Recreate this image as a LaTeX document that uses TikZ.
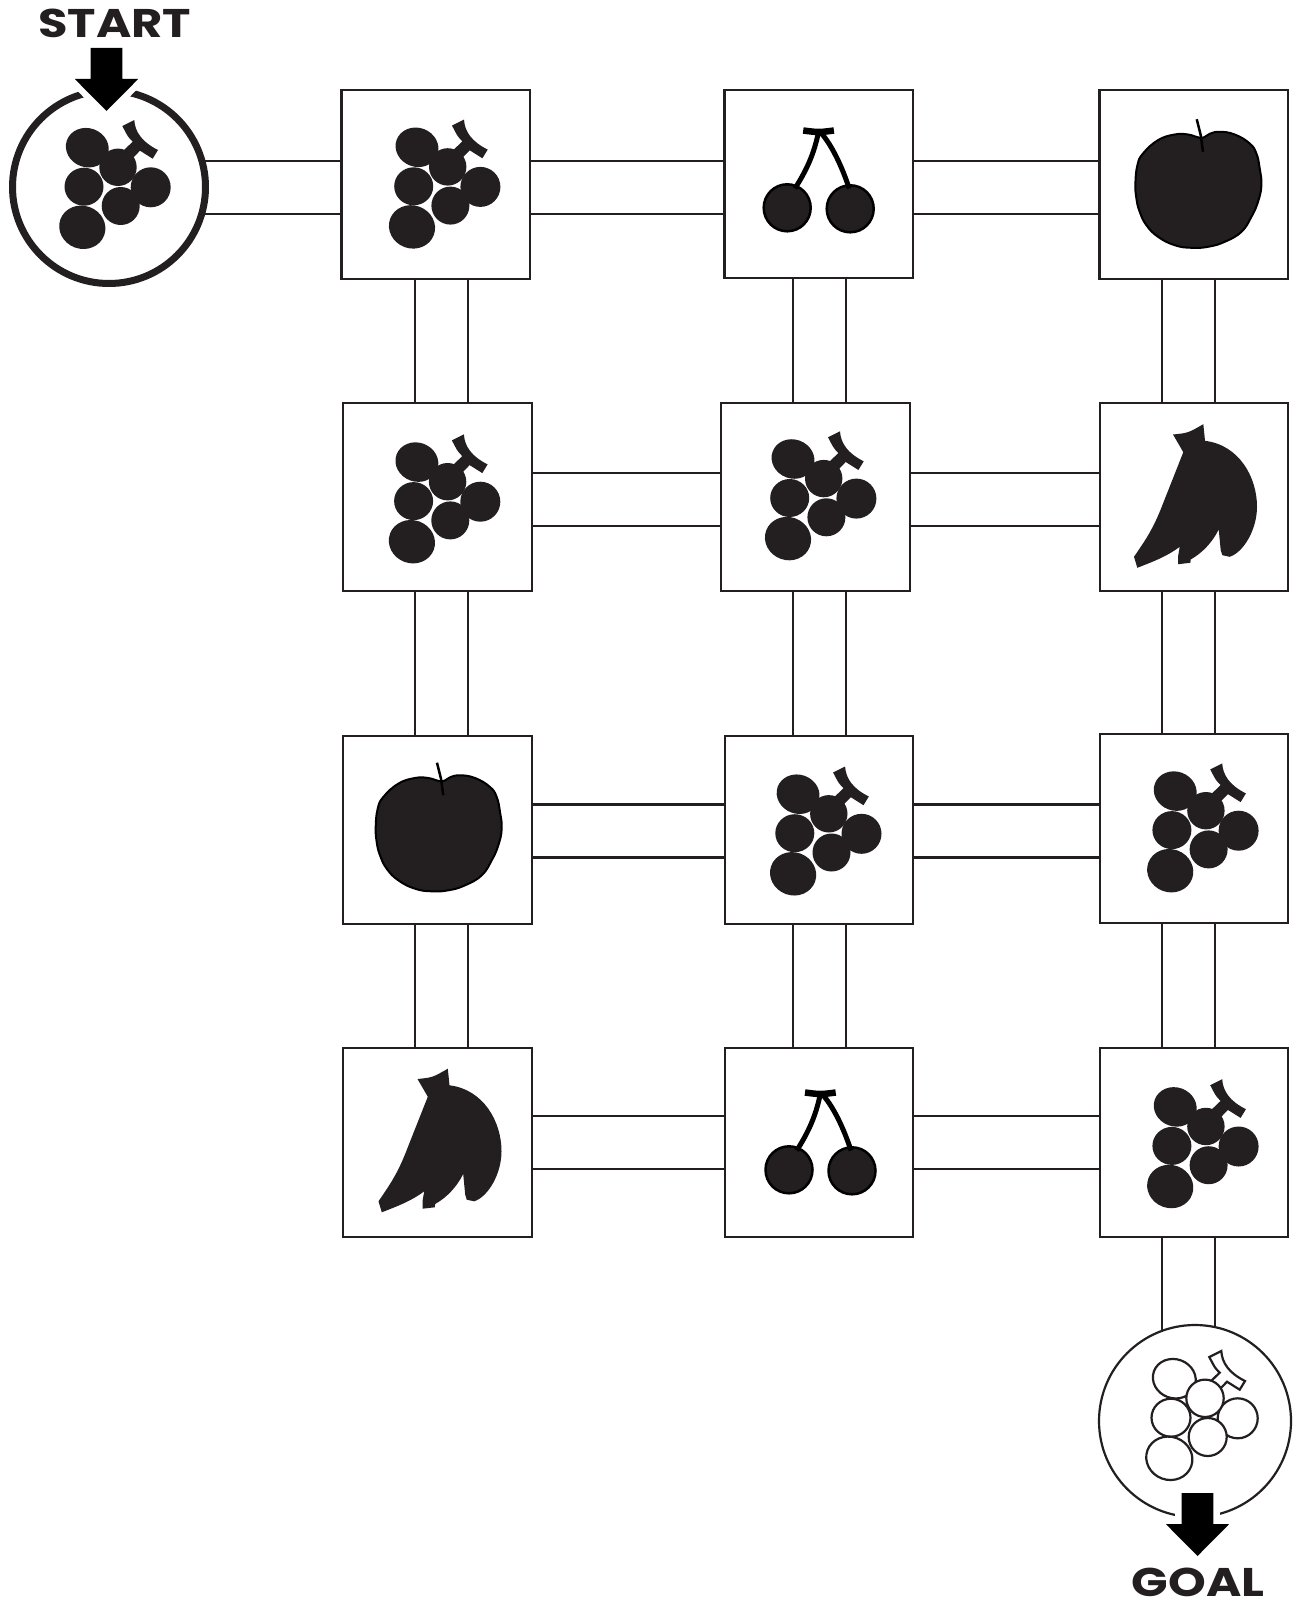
\documentclass[tikz,border=0pt]{standalone}
\usepackage{fontspec}
\usepackage{tikz}
\usetikzlibrary{backgrounds}
\newfontfamily\signfont{Poppins}[FakeStretch=1.2]
\definecolor{ink}{HTML}{231F20}
\tikzset{
    box/.style={draw=ink,fill=white,line width=2.2,minimum size=188.5,inner sep=0},
    startcircle/.style={circle,draw=ink,fill=white,line width=7,minimum size=193,inner sep=0},
    goalcircle/.style={circle,draw=ink,fill=white,line width=2.2,minimum size=192,inner sep=0},
    link/.style={draw=ink,line width=2.2,double=white,double distance=50.8},
    sign/.style={font=\signfont\bfseries\fontsize{40}{40}\selectfont,text=ink,inner sep=0},
    grapes/.pic={
        \path[pic actions] (13.3,-61) -- (25.3,-67) .. controls (26,-55) and (33,-45) .. (49,-37)
            -- (43.7,-28.3) -- (31,-36.3) -- (22,-27) -- (14,-36) -- (23.7,-45.3)
            .. controls (19,-50) .. cycle;
        \path[pic actions] (-21.7,-39.3) ellipse [x radius=21.7,y radius=19.5,rotate=-20];
        \path[pic actions] (-25,-0.3) ellipse [x radius=19.5,y radius=19];
        \path[pic actions] (41.7,0.3) ellipse [x radius=20,y radius=20];
        \path[pic actions] (11.7,19) ellipse [x radius=19,y radius=19];
        \path[pic actions] (-26.7,40.3) ellipse [x radius=23.3,y radius=21.5,rotate=-20];
        \path[pic actions] (9,-19.7) ellipse [x radius=18.7,y radius=18.7];
    },
    cherries/.pic={
        \fill[ink,draw=black,line width=2.5] (-31.5,23.8) circle (23.5);
        \fill[ink,draw=black,line width=2.5] (31.5,24.8) circle (23.5);
        \draw[black,line width=5] (-23.8,4.5) .. controls (-8.8,-18.8) and (-3.8,-35.5) .. (-0.5,-50.5);
        \draw[black,line width=5] (30.5,4.5) .. controls (22.8,-18.8) and (12.8,-39) .. (2.8,-50.5);
        \draw[black,line width=6.5] (-15.5,-53.5) .. controls (0,-51.5) .. (15.2,-53.5);
    },
    apple/.pic={
        \draw[black,line width=2,fill=ink] plot[smooth cycle,tension=.75] coordinates {(7.7,-46.7) (16,-50.7) (26,-52.7) (41,-50)
            (56,-41) (62.7,-31) (66,-16) (67.7,0.7) (64.3,17.3) (57.7,32.3) (47.7,47.3) (31,57.3) (14.3,62.3)
            (-2.3,63.3) (-19,60.7) (-35.7,52.3) (-47.3,40.7) (-54,27.3) (-57.3,14) (-58.3,-1) (-56.3,-19.3)
            (-50.7,-31) (-35.7,-44.3) (-19,-50) (-5.7,-50)};
        \draw[black,line width=2.5] (3,-65.3) -- (7,-49.3) -- (9.3,-32.7);
    },
    banana/.pic={
        \fill[ink] (-21,-62.5) .. controls (-6,-64) .. (9.3,-72.8) -- (11,-56.2)
            .. controls (45,-52) and (63,-20) .. (63,9.8)
            .. controls (63,32) and (50,55) .. (35.7,59.8)
            -- (28.3,58.2) -- (26.7,53.2) -- (24.7,32.5)
            .. controls (18,46) and (8,56) .. (-3.3,62.5)
            -- (-3.7,65.8) -- (-16,67.2) -- (-16,59.8) -- (-14.3,49.8)
            .. controls (-28,60) and (-42,65) .. (-56.7,70.8)
            -- (-60,59.8)
            .. controls (-50,45) and (-41,33) .. (-31,6.5)
            -- (-10.7,-44.8) -- cycle;
    },
    droparrow/.pic={
        \fill[black,preaction={draw=white,line width=13}] (-15.8,0) -- (15.8,0) -- (15.8,31) -- (31.7,31)
            -- (0,63) -- (-31.7,31) -- (-15.8,31) -- cycle;
    }
}
\begin{document}
\begin{tikzpicture}[x=1pt,y=-1pt]
    \useasboundingbox (0,0) rectangle (1301,1602);

    \node[startcircle] (start) at (109,187) {};
    \node[goalcircle] (goal) at (1195,1421) {};

    \node[box] (b11) at (435.7,184.5) {};
    \node[box] (b12) at (818.7,184) {};
    \node[box] (b13) at (1193.7,184.5) {};
    \node[box] (b21) at (437.5,497) {};
    \node[box] (b22) at (815.5,497) {};
    \node[box] (b23) at (1194,497) {};
    \node[box] (b31) at (437.5,830) {};
    \node[box] (b32) at (819,830) {};
    \node[box] (b33) at (1194,828.5) {};
    \node[box] (b41) at (437.5,1142.5) {};
    \node[box] (b42) at (819,1142.5) {};
    \node[box] (b43) at (1194,1142.5) {};

    \coordinate (rowa) at (0,187.5);
    \coordinate (rowb) at (0,499.7);
    \coordinate (rowc) at (0,831);
    \coordinate (rowd) at (0,1142.5);
    \coordinate (cola) at (441.5,0);
    \coordinate (colb) at (819.5,0);
    \coordinate (colc) at (1188.5,0);

    \begin{scope}[on background layer]
        \fill[white] (0,0) rectangle (1301,1602);
        \draw[link] (start |- rowa) -- (b11 |- rowa);
        \draw[link] (b11 |- rowa) -- (b12 |- rowa);
        \draw[link] (b12 |- rowa) -- (b13 |- rowa);
        \draw[link] (b21 |- rowb) -- (b22 |- rowb);
        \draw[link] (b22 |- rowb) -- (b23 |- rowb);
        \draw[link] (b31 |- rowc) -- (b32 |- rowc);
        \draw[link] (b32 |- rowc) -- (b33 |- rowc);
        \draw[link] (b41 |- rowd) -- (b42 |- rowd);
        \draw[link] (b42 |- rowd) -- (b43 |- rowd);

        \draw[link] (cola |- b11) -- (cola |- b21);
        \draw[link] (cola |- b21) -- (cola |- b31);
        \draw[link] (cola |- b31) -- (cola |- b41);
        \draw[link] (colb |- b12) -- (colb |- b22);
        \draw[link] (colb |- b22) -- (colb |- b32);
        \draw[link] (colb |- b32) -- (colb |- b42);
        \draw[link] (colc |- b13) -- (colc |- b23);
        \draw[link] (colc |- b23) -- (colc |- b33);
        \draw[link] (colc |- b33) -- (colc |- b43);
        \draw[link] (colc |- b43) -- (colc |- goal);
    \end{scope}

    \pic at (106.5,48) {droparrow};
    \pic at (1197.5,1493) {droparrow};

    \node[sign] (startlabel) at (114.7,23.5) {START};
    \node[sign] (goallabel) at (1198,1582) {GOAL};

    \pic[fill=ink] at (start) {grapes};
    \pic[fill=ink] at (438.7,186.6) {grapes};
    \pic[fill=ink] at (438.6,501.4) {grapes};
    \pic[fill=ink] at (814.7,498.3) {grapes};
    \pic[fill=ink] at (819.8,833.5) {grapes};
    \pic[fill=ink] at (1196.9,830.4) {grapes};
    \pic[fill=ink] at (1196.9,1146.2) {grapes};
    \pic[draw=ink,fill=white,line width=2.2] at (1196,1418) {grapes};

    \pic at (b12) {cherries};
    \pic at (820.5,1146) {cherries};
    \pic at (b13) {apple};
    \pic at (434,828) {apple};
    \pic at (b23) {banana};
    \pic at (438.5,1141.5) {banana};
\end{tikzpicture}
\end{document}
